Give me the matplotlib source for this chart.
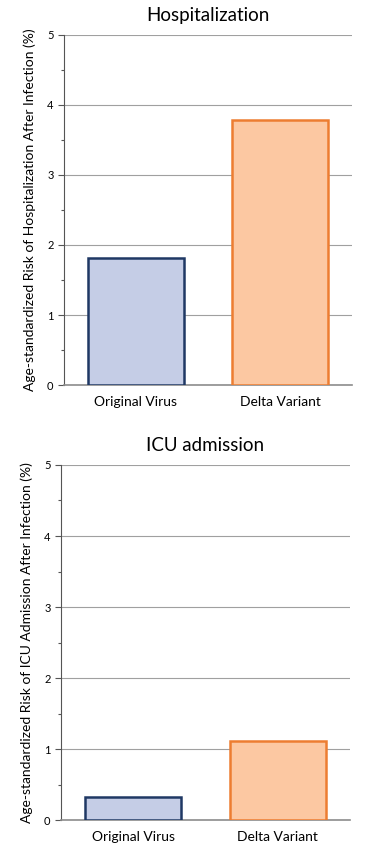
import matplotlib
matplotlib.use("Agg")
import matplotlib.pyplot as plt
from matplotlib.ticker import MultipleLocator

# Data
categories = ["Original Virus", "Delta Variant"]
hosp_values = [1.81, 3.79]
icu_values = [0.33, 1.11]
fill_colors = ["#c5cde6", "#fcc8a2"]
edge_colors = ["#1f3864", "#ed7d31"]

plt.rcParams['font.family'] = ['Lato', 'DejaVu Sans']

fig = plt.figure(figsize=(3.74, 8.5), dpi=100)
ax1 = fig.add_axes([0.171, 0.547, 0.770, 0.412])
ax2 = fig.add_axes([0.163, 0.035, 0.773, 0.418])


def draw_panel(ax, values, title, ylabel):
    x = range(len(categories))
    ax.bar(x, values, width=0.667, color=fill_colors, edgecolor=edge_colors,
           linewidth=1.8, zorder=3)
    ax.set_xlim(-0.5, 1.5)
    ax.set_ylim(0, 5)
    ax.set_xticks(list(x))
    ax.set_xticklabels(categories, fontsize=10)
    ax.set_yticks([0, 1, 2, 3, 4, 5])
    ax.yaxis.set_minor_locator(MultipleLocator(0.5))
    ax.tick_params(axis='y', labelsize=8, length=4, width=0.8, color='#555555')
    ax.tick_params(axis='y', which='minor', length=2.5, width=0.8, color='#555555')
    ax.tick_params(axis='x', length=0, pad=8)
    ax.grid(axis='y', color='#a0a0a0', linewidth=0.8, zorder=0)
    for s in ['top', 'right']:
        ax.spines[s].set_visible(False)
    ax.spines['left'].set_color('#555555')
    ax.spines['bottom'].set_color('#8c8c8c')
    ax.spines['bottom'].set_linewidth(1.2)
    ax.set_title(title, fontsize=13.5, pad=10)
    ax.set_ylabel(ylabel, fontsize=10, labelpad=8)


draw_panel(ax1, hosp_values, "Hospitalization",
           "Age-standardized Risk of Hospitalization After Infection (%)")
draw_panel(ax2, icu_values, "ICU admission",
           "Age-standardized Risk of ICU Admission After Infection (%)")

fig.savefig("out.png", dpi=100)
